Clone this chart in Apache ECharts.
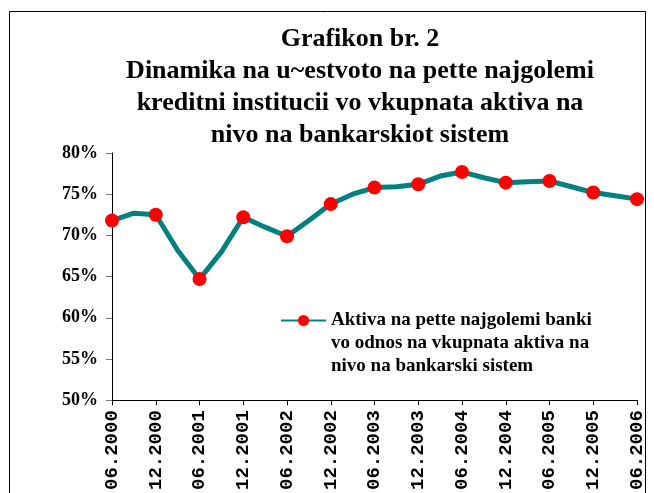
<!DOCTYPE html>
<html>
<head>
<meta charset="utf-8">
<script src="https://cdn.jsdelivr.net/npm/echarts@6/dist/echarts.min.js"></script>
<style>
  html, body { margin: 0; padding: 0; background: #fff; }
  #chart { width: 654px; height: 493px; }
</style>
</head>
<body>
<div id="chart"></div>
<script>
// kvartalni podatoci, markeri samo na 06 i 12
var periods = ['06.2000', '09.2000', '12.2000', '03.2001', '06.2001', '09.2001', '12.2001',
  '03.2002', '06.2002', '09.2002', '12.2002', '03.2003', '06.2003', '09.2003', '12.2003',
  '03.2004', '06.2004', '09.2004', '12.2004', '03.2005', '06.2005', '09.2005', '12.2005',
  '03.2006', '06.2006']
var shareTop5 = [71.8, 72.7, 72.5, 68.2, 64.7, 68.0, 72.2,
  71.0, 69.9, 71.8, 73.8, 75.0, 75.8, 75.9, 76.2,
  77.2, 77.7, 77.0, 76.4, 76.5, 76.6, 75.9, 75.2,
  74.8, 74.4]
var seriesName = 'Aktiva na pette najgolemi banki\nvo odnos na vkupnata aktiva na\nnivo na bankarski sistem'
var titleText = 'Grafikon br. 2\nDinamika na u~estvoto na pette najgolemi\nkreditni institucii vo vkupnata aktiva na\nnivo na bankarskiot sistem'

var chart = echarts.init(document.getElementById('chart'))
var serif = '"Liberation Serif", "Times New Roman", serif'

var option = {
  backgroundColor: '#fff',
  animation: false,
  title: {
    text: titleText,
    left: 360,
    top: 23,
    textAlign: 'center',
    padding: 0,
    textStyle: {
      fontFamily: serif,
      fontWeight: 'bold',
      fontSize: 26,
      lineHeight: 32,
      color: '#000'
    }
  },
  legend: {
    left: 280,
    top: 263,
    orient: 'vertical',
    itemWidth: 45,
    itemHeight: 14,
    padding: 0,
    data: [seriesName],
    // prazni redovi gore za ikonata da stoi do prviot red
    formatter: function (name) {
      return '\n\n' + name
    },
    textStyle: {
      fontFamily: serif,
      fontWeight: 'bold',
      fontSize: 19,
      lineHeight: 23,
      color: '#000'
    }
  },
  grid: {
    left: 112,
    right: 17,
    top: 153,
    bottom: 90
  },
  xAxis: {
    type: 'category',
    boundaryGap: false,
    data: periods,
    axisLine: { lineStyle: { color: '#000', width: 1 } },
    axisTick: { interval: 1, length: 5, lineStyle: { color: '#000' } },
    axisLabel: {
      interval: 1,
      rotate: 90,
      margin: 10,
      fontFamily: '"Liberation Mono", "Courier New", monospace',
      fontWeight: 'bold',
      fontSize: 19,
      color: '#000'
    }
  },
  yAxis: {
    type: 'value',
    min: 50,
    max: 80,
    interval: 5,
    splitLine: { show: false },
    axisLine: { show: true, lineStyle: { color: '#000', width: 1 } },
    axisTick: { show: true, length: 6, lineStyle: { color: '#777' } },
    axisLabel: {
      formatter: '{value}%',
      margin: 14,
      fontFamily: serif,
      fontWeight: 'bold',
      fontSize: 18,
      color: '#000'
    }
  },
  graphic: [
    {
      type: 'rect',
      shape: { x: 9.5, y: 11.5, width: 636, height: 490 },
      style: { fill: 'none', stroke: '#000', lineWidth: 1 },
      silent: true
    }
  ],
  series: [
    {
      name: seriesName,
      type: 'line',
      data: shareTop5,
      symbol: 'circle',
      symbolSize: function (val, params) {
        return params.dataIndex % 2 === 0 ? 14 : 0
      },
      showAllSymbol: true,
      lineStyle: { color: '#008080', width: 5 },
      itemStyle: { color: '#ff0000' }
    }
  ]
}

chart.setOption(option)
</script>
</body>
</html>
